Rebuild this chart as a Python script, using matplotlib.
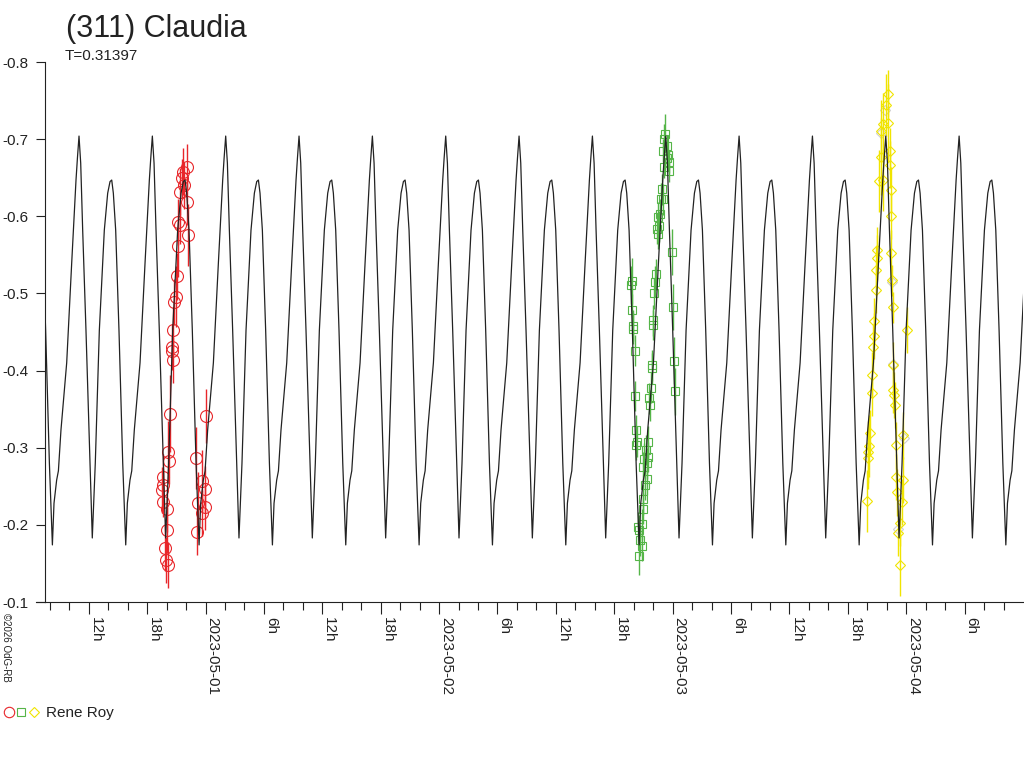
import datetime
import numpy as np
import matplotlib
matplotlib.use("Agg")
import matplotlib.pyplot as plt
import matplotlib.dates as mdates
from matplotlib.lines import Line2D
from matplotlib.legend_handler import HandlerTuple

plt.rcParams['font.family'] = ['Liberation Sans', 'DejaVu Sans']
plt.rcParams['axes.unicode_minus'] = False

# --- data -------------------------------------------------------------
# times in hours relative to 2023-05-01 00:00 UT, values as plotted (mag)
period_days = 0.31397
peak_epoch_h = 2.075          # one maximum of the model curve

# model light curve, one period (phase 0 = main max)
shape_phase = [0.000, 0.023, 0.050, 0.095, 0.150, 0.181, 0.222, 0.277, 0.345,
               0.391, 0.423, 0.446, 0.468, 0.500, 0.545, 0.596, 0.637, 0.659,
               0.695, 0.719, 0.754, 0.832, 0.900, 0.959, 0.978]
shape_mag = [-0.704, -0.669, -0.582, -0.452, -0.280, -0.183, -0.280, -0.452, -0.582,
             -0.630, -0.645, -0.647, -0.630, -0.582, -0.452, -0.280, -0.174, -0.228,
             -0.258, -0.270, -0.323, -0.410, -0.539, -0.647, -0.675]

red_hours = [-1.93, -2.28, -2.45, -2.21, -2.62, -1.87, -2.79, -2.62, -1.77, -2.86,
             -2.96, -3.03, -3.21, -3.37, -3.41, -3.47, -3.37, -3.65, 0.05, -3.82,
             -3.72, -0.98, -4.34, -4.50, -4.37, -0.39, -0.05, -4.34, -3.92, -0.74,
             -0.05, -0.39, -3.99, -0.90, -4.16, -4.06, -3.82]
red_mag = [-0.664, -0.658, -0.649, -0.640, -0.632, -0.619, -0.593, -0.589, -0.576, -0.561,
           -0.522, -0.496, -0.489, -0.453, -0.431, -0.425, -0.414, -0.344, -0.341, -0.294,
           -0.283, -0.287, -0.262, -0.245, -0.252, -0.257, -0.246, -0.230, -0.221, -0.228,
           -0.223, -0.215, -0.193, -0.191, -0.170, -0.154, -0.148]
red_err = [0.03, 0.03, 0.025, 0.03, 0.03, 0.03, 0.03, 0.025, 0.04, 0.04,
           0.03, 0.04, 0.03, 0.03, 0.03, 0.02, 0.03, 0.05, 0.035, 0.04,
           0.03, 0.04, 0.03, 0.03, 0.02, 0.04, 0.03, 0.02, 0.03, 0.04,
           0.03, 0.03, 0.03, 0.03, 0.03, 0.03, 0.03]

green_hours = [47.21, 47.11, 47.38, 46.97, 47.55, 47.38, 47.65, 47.11, 47.65, 46.87,
               46.77, 46.97, 46.70, 46.49, 46.56, 46.36, 46.49, 47.90, 46.28, 46.18,
               43.79, 43.68, 46.11, 48.00, 43.85, 45.95, 46.01, 43.95, 43.89, 44.10,
               48.13, 45.84, 45.84, 48.21, 45.74, 45.56, 45.67, 44.10, 44.20, 44.30,
               45.49, 44.23, 45.26, 45.49, 45.05, 45.33, 44.98, 45.33, 45.15, 44.92,
               44.92, 44.81, 44.47, 44.57, 44.64, 44.81, 44.57]
green_mag = [-0.707, -0.700, -0.691, -0.685, -0.680, -0.675, -0.671, -0.664, -0.659, -0.635,
             -0.623, -0.622, -0.603, -0.599, -0.587, -0.584, -0.577, -0.554, -0.525, -0.515,
             -0.516, -0.511, -0.500, -0.482, -0.479, -0.465, -0.459, -0.458, -0.454, -0.426,
             -0.413, -0.407, -0.403, -0.373, -0.378, -0.364, -0.355, -0.367, -0.323, -0.308,
             -0.308, -0.304, -0.297, -0.288, -0.286, -0.280, -0.275, -0.259, -0.252, -0.233,
             -0.221, -0.201, -0.197, -0.193, -0.180, -0.173, -0.160]
green_err = [0.025, 0.02, 0.015, 0.015, 0.015, 0.015, 0.015, 0.015, 0.015, 0.02,
             0.02, 0.02, 0.02, 0.02, 0.02, 0.02, 0.02, 0.03, 0.02, 0.02,
             0.03, 0.025, 0.02, 0.03, 0.02, 0.02, 0.02, 0.02, 0.02, 0.02,
             0.03, 0.02, 0.02, 0.03, 0.02, 0.02, 0.02, 0.02, 0.02, 0.02,
             0.02, 0.02, 0.02, 0.02, 0.02, 0.02, 0.02, 0.02, 0.02, 0.02,
             0.02, 0.02, 0.02, 0.02, 0.02, 0.02, 0.025]

yellow_hours = [70.09, 69.91, 70.09, 69.64, 69.40, 70.33, 69.37, 70.33, 69.23, 69.64,
                70.40, 70.40, 69.02, 70.40, 69.02, 68.89, 70.50, 68.89, 70.60, 68.68,
                72.04, 68.68, 68.61, 70.60, 68.45, 70.66, 68.45, 70.74, 70.84, 68.27,
                71.69, 68.20, 70.94, 68.10, 68.10, 70.94, 71.63, 71.01, 71.53, 67.93,
                71.35, 71.18, 71.35]
yellow_mag = [-0.759, -0.744, -0.721, -0.720, -0.711, -0.685, -0.677, -0.667, -0.646, -0.647,
              -0.634, -0.601, -0.556, -0.552, -0.546, -0.531, -0.517, -0.504, -0.482, -0.464,
              -0.453, -0.445, -0.430, -0.407, -0.394, -0.375, -0.371, -0.368, -0.355, -0.319,
              -0.316, -0.302, -0.303, -0.294, -0.287, -0.262, -0.258, -0.242, -0.230, -0.231,
              -0.202, -0.189, -0.148]
yellow_err = [0.03, 0.04, 0.05, 0.04, 0.04, 0.03, 0.05, 0.03, 0.04, 0.04,
              0.03, 0.03, 0.03, 0.03, 0.03, 0.03, 0.02, 0.03, 0.02, 0.03,
              0.03, 0.03, 0.03, 0.03, 0.03, 0.03, 0.03, 0.03, 0.03, 0.03,
              0.03, 0.04, 0.03, 0.04, 0.04, 0.03, 0.03, 0.03, 0.03, 0.04,
              0.03, 0.03, 0.04]

gray_hours = [69.45, 69.86, 70.58, 70.63, 71.72, 71.13]
gray_mag = [-0.708, -0.738, -0.515, -0.408, -0.313, -0.195]

# --- figure -----------------------------------------------------------
base = mdates.date2num(datetime.datetime(2023, 5, 1))
dark = '#222222'
red, green, yellow, gray = '#e8262a', '#55b548', '#f0e400', '#cfcfcf'

fig = plt.figure(figsize=(10.24, 7.68), dpi=100)
ax = fig.add_axes([45 / 1024, 166 / 768, 977.6 / 1024, 540 / 768])

# model curve, repeated every period
period_h = period_days * 24
curve_t, curve_m = [], []
for k in range(-4, 13):
    for ph, m in zip(shape_phase, shape_mag):
        curve_t.append(peak_epoch_h + (k + ph) * period_h)
        curve_m.append(m)
curve_t = base + np.array(curve_t) / 24
ax.plot(curve_t, curve_m, color=dark, lw=0.9, zorder=3)

def to_dates(hours):
    return base + np.array(hours) / 24

ax.errorbar(to_dates(red_hours), red_mag, yerr=red_err, fmt='o', ms=8.6, mfc='none',
            mec=red, mew=0.8, ecolor=red, elinewidth=1.0, capsize=0, zorder=2)
ax.errorbar(to_dates(green_hours), green_mag, yerr=green_err, fmt='s', ms=5.6, mfc='none',
            mec=green, mew=0.8, ecolor=green, elinewidth=1.0, capsize=0, zorder=2)
ax.errorbar(to_dates(yellow_hours), yellow_mag, yerr=yellow_err, fmt='D', ms=5.0, mfc='none',
            mec=yellow, mew=0.8, ecolor=yellow, elinewidth=1.0, capsize=0, zorder=2)
ax.plot(to_dates(gray_hours), gray_mag, 'D', ms=5.0, mfc='none', mec=gray, mew=0.8, zorder=1)

ax.set_xlim(base - 16.49 / 24, base + 83.95 / 24)
ax.set_ylim(-0.1, -0.8)
ax.set_yticks([-0.8, -0.7, -0.6, -0.5, -0.4, -0.3, -0.2, -0.1])
ax.set_yticklabels(['-0.8', '-0.7', '-0.6', '-0.5', '-0.4', '-0.3', '-0.2', '-0.1'])

ax.xaxis.set_major_locator(mdates.HourLocator(byhour=[0, 6, 12, 18]))
ax.xaxis.set_minor_locator(mdates.HourLocator(byhour=range(0, 24, 2)))

def fmt_time(x, pos=None):
    d = mdates.num2date(x)
    if d.hour == 0:
        return d.strftime('%Y-%m-%d')
    return '%dh' % d.hour

ax.xaxis.set_major_formatter(plt.FuncFormatter(fmt_time))

for side in ['top', 'right']:
    ax.spines[side].set_visible(False)
for side in ['left', 'bottom']:
    ax.spines[side].set_color(dark)
    ax.spines[side].set_linewidth(0.8)

ax.tick_params(axis='y', direction='out', length=6.5, width=0.8, color=dark,
               labelsize=11, labelcolor=dark, pad=5.5)
ax.tick_params(axis='x', which='major', direction='out', length=8.6, width=0.8, color=dark,
               labelsize=11, labelcolor=dark, pad=2, labelrotation=-90)
ax.tick_params(axis='x', which='minor', direction='out', length=5.8, width=0.8, color=dark)
for lbl in ax.get_xticklabels():
    lbl.set_ha('left')
    lbl.set_va('top')

# x axis line runs a bit left of the y axis
ax.plot([-9 / 977.6, 0], [0, 0], transform=ax.transAxes, color=dark, lw=0.8, clip_on=False)

fig.text(66 / 1024, 1 - 14 / 768, '(311) Claudia', fontsize=22, color=dark, va='top')
fig.text(65 / 1024, 1 - 49 / 768, 'T=0.31397', fontsize=11, color=dark, va='top')
fig.text(0.5 / 1024, 1 - 613 / 768, '\u00a92026 OdG-RB', fontsize=7, color=dark,
         rotation=-90, ha='left', va='top')

h1 = Line2D([], [], ls='none', marker='o', ms=7.5, mfc='none', mec=red, mew=0.8)
h2 = Line2D([], [], ls='none', marker='s', ms=5.2, mfc='none', mec=green, mew=0.8)
h3 = Line2D([], [], ls='none', marker='D', ms=5.0, mfc='none', mec=yellow, mew=0.8)
leg = fig.legend(handles=[(h1, h2, h3)], labels=['Rene Roy'],
                 handler_map={tuple: HandlerTuple(ndivide=None, pad=0.0)},
                 loc='center left', bbox_to_anchor=(3 / 1024, 1 - 713 / 768),
                 frameon=False, handlelength=2.4, handletextpad=0.4,
                 borderpad=0, borderaxespad=0, fontsize=11)
for t in leg.get_texts():
    t.set_color(dark)

fig.savefig('out.png', dpi=100)
